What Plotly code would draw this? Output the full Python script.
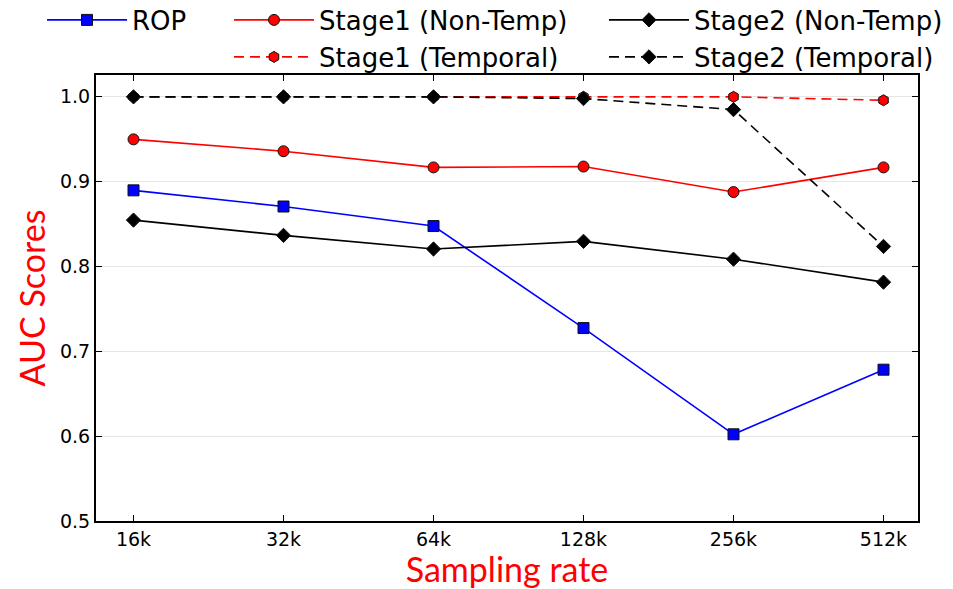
import plotly.graph_objects as go

# Sampling rates on the x axis
rates = ["16k", "32k", "64k", "128k", "256k", "512k"]

# AUC scores per method
rop = [0.889, 0.870, 0.847, 0.727, 0.602, 0.678]
stage1_nontemp = [0.949, 0.935, 0.916, 0.917, 0.887, 0.916]
stage2_nontemp = [0.854, 0.836, 0.820, 0.829, 0.808, 0.781]
stage1_temporal = [0.999, 0.999, 0.999, 0.999, 0.999, 0.995]
stage2_temporal = [0.999, 0.999, 0.999, 0.997, 0.984, 0.823]

y_ticks = [0.5, 0.6, 0.7, 0.8, 0.9, 1.0]

W, H = 953, 589
L, R, T, B = 96, 35, 75, 68
pw, ph = W - L - R, H - T - B

def px_x(p):
    return (p - L) / pw

def px_y(p):
    return 1 + (T - p) / ph

dash = "10px,6px"
edge = dict(color="#111111", width=1)

series = [
    dict(name="ROP", y=rop, color="#0000ff", dash="solid",
         marker=dict(symbol="square", size=11), legend="legend"),
    dict(name="Stage1 (Non-Temp)", y=stage1_nontemp, color="#ff0000", dash="solid",
         marker=dict(symbol="circle", size=11), legend="legend2"),
    dict(name="Stage2 (Non-Temp)", y=stage2_nontemp, color="#000000", dash="solid",
         marker=dict(symbol="diamond", size=11), legend="legend3"),
    dict(name="Stage1 (Temporal)", y=stage1_temporal, color="#ff0000", dash=dash,
         marker=dict(symbol="hexagon", size=11), legend="legend4"),
    dict(name="Stage2 (Temporal)", y=stage2_temporal, color="#000000", dash=dash,
         marker=dict(symbol="diamond", size=11), legend="legend5"),
]

fig = go.Figure()
for s in series:
    fig.add_trace(go.Scatter(
        x=rates, y=s["y"], name=s["name"], mode="lines+markers",
        line=dict(color=s["color"], width=1.6, dash=s["dash"]),
        marker=dict(symbol=s["marker"]["symbol"], size=s["marker"]["size"],
                    color=s["color"], line=edge),
        legend=s["legend"],
    ))

legend_font = dict(family="DejaVu Sans", size=26, color="#000000")

def legend_at(xp, yp):
    return dict(x=px_x(xp), y=px_y(yp), xanchor="left", yanchor="middle",
                orientation="h", font=legend_font, itemwidth=80,
                bgcolor="rgba(0,0,0,0)", borderwidth=0)

axis_common = dict(
    showline=True, linecolor="#000000", linewidth=2, mirror="ticks",
    ticks="inside", ticklen=6, tickwidth=1, tickcolor="#000000",
    tickfont=dict(family="DejaVu Sans", size=19, color="#000000"),
    zeroline=False,
)

fig.update_layout(
    width=W, height=H,
    margin=dict(l=L, r=R, t=T, b=B, autoexpand=False),
    paper_bgcolor="white", plot_bgcolor="white",
    showlegend=True,
    legend=legend_at(42, 20),
    legend2=legend_at(229, 20),
    legend3=legend_at(604, 20),
    legend4=legend_at(229, 57),
    legend5=legend_at(604, 57),
    xaxis=dict(
        **axis_common,
        range=[-0.25, 5.23], showgrid=False,
        title=dict(text="Sampling rate", standoff=14,
                   font=dict(family="Lato", size=34, color="#ff0000")),
    ),
    yaxis=dict(
        **axis_common,
        range=[0.5, 1.0247], tickvals=y_ticks, tickformat=".1f",
        showgrid=True, gridcolor="#e6e6e6", gridwidth=1,
        title=dict(text="AUC Scores", standoff=4,
                   font=dict(family="Lato", size=34, color="#ff0000")),
    ),
)

fig.write_html("out.html")
